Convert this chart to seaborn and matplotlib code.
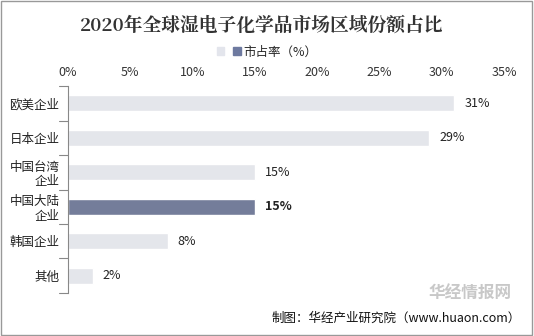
import matplotlib
matplotlib.use("Agg")
import matplotlib.pyplot as plt
import seaborn as sns
import pandas as pd
from matplotlib.patches import Rectangle

categories = ["欧美企业", "日本企业", "中国台湾\n企业", "中国大陆\n企业", "韩国企业", "其他"]
values = [31, 29, 15, 15, 8, 2]
highlight = [False, False, False, True, False, False]
tick_vals = [0, 5, 10, 15, 20, 25, 30, 35]
tick_labels = [f"{v}%" for v in tick_vals]

sns.set_theme(style="white")
plt.rcParams['font.family'] = ['Noto Sans CJK SC', 'DejaVu Sans']

light = "#E3E5EC"
dark = "#6E7AA0"

df = pd.DataFrame({"cat": categories, "val": values,
                   "grp": ["hl" if h else "base" for h in highlight]})

fig = plt.figure(figsize=(5.34, 3.36), dpi=100)
ax = fig.add_axes([0.127, 0.128, 0.817, 0.616])
sns.barplot(data=df, x="val", y="cat", hue="grp", palette={"base": light, "hl": dark},
            dodge=False, width=0.46, ax=ax, legend=False, order=categories)

ax.set_xlim(0, 35)
ax.set_xticks(tick_vals)
ax.set_xticklabels(tick_labels, fontsize=9, color="#333333")
ax.xaxis.tick_top()
ax.tick_params(axis="x", length=0, pad=5)
ax.set_xlabel("")
ax.set_ylabel("")
ax.set_yticks(range(len(categories)))
ax.set_yticklabels(categories, fontsize=9, color="#222222", linespacing=1.15)
ax.tick_params(axis="y", length=0, pad=6)
for s in ["top", "right", "bottom"]:
    ax.spines[s].set_visible(False)
ax.spines["left"].set_color("#888888")
ax.spines["left"].set_linewidth(0.8)
ax.set_ylim(len(categories) - 0.5, -0.5)
for b in [i - 0.5 for i in range(len(categories) + 1)]:
    ax.plot([-0.02, 0], [b, b], transform=ax.get_yaxis_transform(), color="#888888",
            lw=0.8, clip_on=False)

for i, (v, h) in enumerate(zip(values, highlight)):
    ax.text(v + 0.8, i, f"{v}%", va="center", ha="left", fontsize=9,
            color="#222222", fontweight="bold" if h else "normal")

fig.text(0.49, 0.925, "2020年全球湿电子化学品市场区域份额占比", ha="center", va="center",
         fontsize=13.5, fontweight="bold", color="#333333",
         family=['Noto Serif CJK SC', 'Noto Sans CJK SC', 'DejaVu Sans'])

handles = [Rectangle((0, 0), 1, 1, color=light), Rectangle((0, 0), 1, 1, color=dark)]
fig.legend(handles, [" ", "市占率（%）"], loc="center", bbox_to_anchor=(0.5, 0.845),
           ncol=2, frameon=False, fontsize=9, handlelength=0.6, handleheight=0.6,
           handletextpad=0.2, columnspacing=0.3)

fig.text(0.975, 0.052, "制图：华经产业研究院（www.huaon.com）", ha="right", va="center",
         fontsize=9, color="#111111")
fig.text(0.88, 0.125, "华经情报网", ha="center", va="center", fontsize=12,
         fontweight="bold", color="#BBBBBB", alpha=0.8)

border = Rectangle((0.002, 0.003), 0.995, 0.993, transform=fig.transFigure, fill=False,
                   edgecolor="#999999", lw=1)
fig.patches.append(border)

fig.savefig("out.png", dpi=100)
